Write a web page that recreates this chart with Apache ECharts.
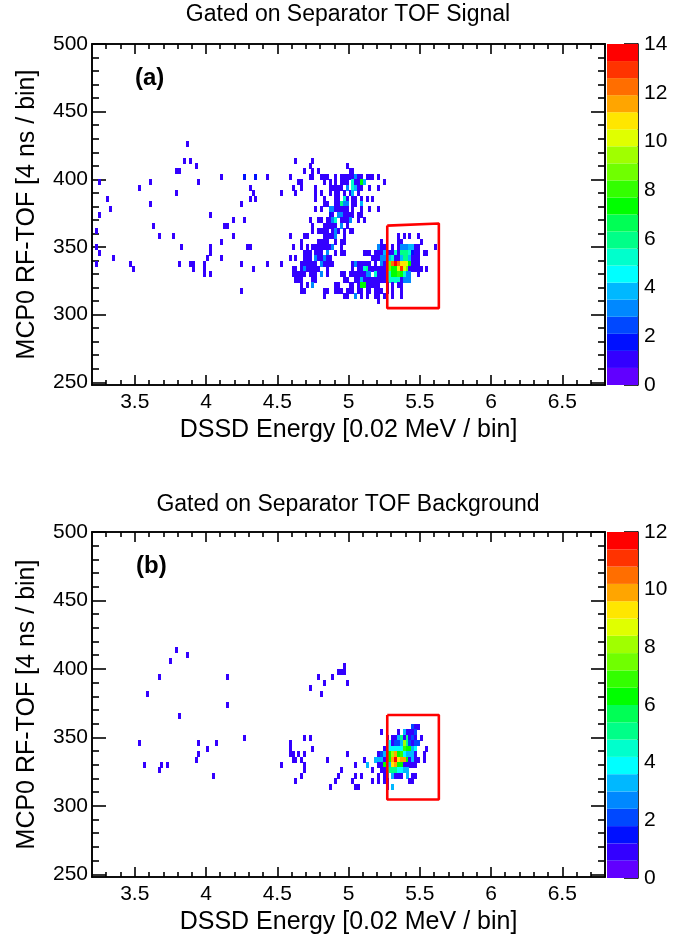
<!DOCTYPE html>
<html>
<head>
<meta charset="utf-8">
<script src="https://cdn.jsdelivr.net/npm/echarts@6/dist/echarts.min.js"></script>
<style>
html, body { margin: 0; padding: 0; background: #fff; }
#chart { width: 694px; height: 936px; }
</style>
</head>
<body>
<div id="chart"></div>
<script>
// each row: [tof low edge, energy bin numbers (0.02 MeV, bin 0 starts at 3.2), counts, 1 when left out]
const rowsA = [
  [424, [33]],
  [412, [32,34,71,77]],
  [408, [36,76,89]],
  [404, [29,30,74,77,79,90,91]],
  [400, [45,53,57,61,69,76,77,80,81,82,85,87,88,89,90,91,92,93,94,96,97,98,100], [1,2,2,1,1,1,1,1,1,1,1,1,1,1,1,1,3,1,1,1,1,1,1]],
  [396, [2,20,37,72,73,81,83,85,87,88,89,91,92,93,94,95,102], [1,1,1,1,1,1,1,1,1,1,1,5,1,1,7,4,1]],
  [392, [16,55,70,73,78,83,84,85,86,87,89,91,92,93,94,97,100], [1,1,1,1,1,1,1,1,1,1,3,5,4,1,1,1,1]],
  [388, [29,56,66,71,78,80,83,85,86,88,90,91,93], [1,1,1,1,1,1,1,1,1,1,1,4,1]],
  [384, [5,55,57,78,81,85,86,88,89,91,92,94,96,98], [1,1,1,1,1,1,1,5,1,1,1,1,1,1]],
  [380, [20,52,81,82,85,86,87,88,89,91,92,94], [1,1,1,1,1,1,6,3,3,1,1,4]],
  [376, [6,78,80,83,84,85,86,87,88,89,91,94,97,100], [1,1,1,3,3,1,1,1,1,1,1,1,1,1]],
  [372, [2,41,83,84,86,87,88,89,90,91,93,94], [1,1,2,1,3,3,1,1,1,1,1,1]],
  [368, [49,53,76,79,80,82,83,84,85,87,88,89,90,93,95], [1,1,1,1,1,1,1,3,5,1,1,1,3,1,1]],
  [364, [21,46,47,77,81,82,83,84,85,87,89], [1,1,1,1,1,1,1,1,1,3,1]],
  [360, [1,77,79,80,81,82,84,85,86,88,90,91], [1,1,1,1,1,1,1,3,1,1,1,1]],
  [356, [23,28,49,69,74,75,81,82,83,84,85,88,107,109,111,114], [1,1,1,1,1,1,1,1,1,1,3,1,1,1,1,1]],
  [352, [45,73,79,80,81,82,85,87,88,101,107,108,115]],
  [348, [1,31,41,54,55,70,73,75,77,78,79,80,81,82,83,84,87,100,101,102,105,107,108,109,110,111,112,113,114,120], [1,1,1,1,1,1,1,1,1,1,1,1,1,1,1,3,1,3,1,1,1,1,3,3,3,4,4,1,1,1]],
  [344, [2,41,74,75,76,78,79,80,82,85,87,88,95,96,97,99,100,101,102,104,105,106,107,108,109,110,111,112,113,114,116,117], [1,1,1,1,1,1,1,1,3,1,1,1,1,1,1,1,1,1,4,1,1,5,1,6,6,6,5,2,1,1,1,1]],
  [340, [7,40,45,69,71,74,75,76,78,79,80,81,82,83,98,99,100,101,102,104,105,106,107,108,109,110,111,112,113,114], [1,1,1,1,1,1,1,1,3,1,1,3,1,1,1,1,1,3,3,4,5,1,1,4,6,6,4,1,1,1]],
  [336, [1,13,30,34,35,39,52,61,66,73,74,75,76,77,78,80,81,82,83,84,91,92,93,94,95,96,97,99,101,102,104,105,106,107,108,109,110,111,112,113,114], [1,1,1,1,1,1,1,1,1,1,1,1,1,1,1,3,1,1,1,1,1,3,1,1,1,1,1,1,3,1,9,12,14,12,11,11,10,7,1,1,1]],
  [332, [14,35,39,56,70,71,73,74,75,76,77,78,79,82,91,93,94,95,96,97,98,99,100,101,102,104,105,106,107,108,109,110,111,112,113,114,115,117], [1,1,1,1,1,1,1,3,1,1,1,1,1,1,1,1,1,5,6,1,1,1,1,1,1,9,7,7,10,13,10,9,1,1,1,1,1,1]],
  [328, [39,41,70,71,72,73,74,76,77,78,80,82,87,88,90,91,92,93,94,95,96,97,99,100,101,102,103,104,105,106,107,108,109,110,111,114], [1,1,1,1,1,1,1,1,1,1,3,1,1,1,1,1,1,1,1,1,3,3,5,1,1,1,1,5,7,7,8,7,5,3,3,1]],
  [324, [71,72,73,77,78,88,89,92,93,94,95,96,97,98,99,100,101,102,103,104,105,106,107,108,109,110,111], [1,1,1,1,1,1,1,1,1,4,1,1,1,1,1,1,1,1,1,5,5,5,5,1,3,3,3]],
  [320, [73,75,77,85,86,90,91,93,94,95,96,97,98,99,100,103,105,107,108], [1,1,3,1,1,1,1,1,7,7,1,1,1,1,1,1,1,1,1]],
  [316, [52,73,74,81,82,85,86,87,89,90,91,93,94,96,97,99,100,101,103,105,108]],
  [312, [81,88,89,92,94,96,99,100,102,105,108], [1,1,1,3,1,1,1,1,1,1,1]],
  [308, [100]]
]
const rowsB = [
  [412, [29]],
  [408, [33]],
  [404, [27]],
  [400, [88]],
  [396, [86,87,88]],
  [392, [23,47,79,84]],
  [388, [81,89]],
  [384, [76]],
  [380, [19,80]],
  [372, [47]],
  [364, [30]],
  [356, [112,113,114], [2,1,1]],
  [352, [101,107,109,110,111,112,113], [1,1,3,1,1,1,2]],
  [348, [53,74,76,103,105,106,107,108,109,110,111,112,113,115], [1,1,1,1,1,1,3,5,1,5,1,2,1,1]],
  [344, [16,37,43,69,104,105,106,107,108,109,110,111,112,113,114], [1,1,1,1,4,1,2,2,3,8,5,2,1,2,2]],
  [340, [40,69,77,102,103,104,105,106,107,108,109,110,111,112,113,117], [1,1,1,1,1,4,4,4,4,4,7,6,6,3,4,1]],
  [336, [37,69,70,72,74,89,100,101,102,103,104,105,106,107,108,109,110,111,112,113,116], [1,1,1,1,1,1,1,2,3,1,6,8,10,6,7,4,3,3,3,1,1]],
  [332, [36,70,71,73,82,95,99,100,101,102,103,104,105,106,107,108,109,110,111,112,113,114,116], [1,1,1,1,1,1,3,3,3,1,1,6,10,12,9,10,10,6,1,3,1,1,1]],
  [328, [18,24,26,66,74,92,96,100,101,102,103,104,105,106,107,108,109,110,111,112,113], [1,1,1,1,1,1,3,1,1,6,1,3,9,10,6,6,1,1,1,1,1]],
  [324, [23,74,87,98,101,102,103,104,105,106,107,108,109,110], [1,1,1,1,1,1,5,5,5,5,4,4,3,3]],
  [320, [42,73,86,92,94,100,102,103,105,106,107,108,110,112,113], [1,1,1,1,1,1,1,3,3,1,1,1,3,1,1]],
  [316, [71,85,91,98,100,102,103,111,112]],
  [312, [83,92,93,103,105], [1,1,1,1,3]]
]
const paletteColors = ['#6100ff','#3300ff','#0010ff','#0048ff','#0088ff','#00b8ff','#00ffff','#00ffcc','#00ff88','#00ff55',
  '#00ff00','#33ff00','#70ff00','#a0ff00','#e0ff00','#ffe600','#ffa500','#ff6e00','#ff3300','#ff0000']

const energyMajor = [3.5,4,4.5,5,5.5,6,6.5]
const energyMinor = [3.3,3.4,3.6,3.7,3.8,3.9,4.1,4.2,4.3,4.4,4.6,4.7,4.8,4.9,5.1,5.2,5.3,5.4,5.6,5.7,5.8,5.9,6.1,6.2,6.3,6.4,6.6,6.7,6.8]
const tofMajor = [250,300,350,400,450,500]
const tofMinor = [260,270,280,290,310,320,330,340,360,370,380,390,410,420,430,440,460,470,480,490]
const scaleTicksA = [0,2,4,6,8,10,12,14]
const scaleTicksB = [0,2,4,6,8,10,12]
const gateEnergy = [5.272,5.634,5.634,5.272,5.272]
const gateTofA = [365.8,367.3,304.8,304.8,365.8]
const gateTofB = [366.3,366.3,304.6,304.6,366.3]

const font = 'Liberation Sans'
const energyRange = [3.2, 6.8]
const tofRange = [248, 500]

function cells (rows) {
  const out = []
  rows.forEach(([tof, bins, counts]) => {
    bins.forEach((b, i) => {
      out.push([3.2 + b * 0.02, tof, counts ? counts[i] : 1])
    })
  })
  return out
}

function renderCell (maxCount) {
  return function (params, api) {
    const p = api.coord([api.value(0), api.value(1) + 4])
    const band = Math.min(19, Math.floor(api.value(2) / maxCount * 20))
    return {
      type: 'rect',
      shape: { x: Math.round(p[0]), y: Math.round(p[1]), width: 3, height: 6 },
      style: { fill: paletteColors[band] }
    }
  }
}

function renderBand (params, api) {
  const p0 = api.coord([0, api.value(1)])
  const p1 = api.coord([1, api.value(0)])
  return {
    type: 'rect',
    shape: { x: p0[0], y: p0[1], width: p1[0] - p0[0], height: p1[1] - p0[1] },
    style: { fill: paletteColors[api.value(2)] }
  }
}

const black = { color: '#000', width: 1.6 }

// one axis: line + ticks at the given values, no labels unless label is set
function axis (gridIndex, position, range, values, len, label, name, nameGap) {
  return {
    type: 'value', gridIndex, position, min: range[0], max: range[1],
    splitLine: { show: false },
    axisLine: { show: true, onZero: false, lineStyle: black },
    axisTick: { show: true, inside: true, length: len, customValues: values, lineStyle: black },
    axisLabel: label ? { show: true, customValues: values, color: '#000', fontFamily: font, fontSize: 21, margin: label } : { show: false },
    name: name || '',
    nameLocation: 'middle',
    nameGap: nameGap,
    nameTextStyle: { color: '#000', fontFamily: font, fontSize: 25 }
  }
}

function textLabel (text, left, top, size, weight, align) {
  return { text, left, top, padding: 0, textAlign: align, textStyle: { color: '#000', fontFamily: font, fontSize: size, fontWeight: weight } }
}

const option = {
  animation: false,
  backgroundColor: '#fff',
  title: [
    textLabel('Gated on Separator TOF Signal', 348, 3, 23, 'normal', 'center'),
    textLabel('Gated on Separator TOF Background', 348, 493, 23, 'normal', 'center'),
    textLabel('(a)', 135, 66, 24, 'bold', 'left'),
    textLabel('(b)', 136, 554, 24, 'bold', 'left')
  ],
  grid: [
    { left: 92, top: 44, width: 513, height: 341 },
    { left: 607, top: 44, width: 31, height: 341 },
    { left: 92, top: 532, width: 513, height: 346 },
    { left: 607, top: 532, width: 31, height: 346 }
  ],
  xAxis: [
    axis(0, 'bottom', energyRange, energyMajor, 10, 7, 'DSSD Energy [0.02 MeV / bin]', 33),
    { type: 'value', gridIndex: 1, min: 0, max: 1, show: false },
    axis(2, 'bottom', energyRange, energyMajor, 10, 7, 'DSSD Energy [0.02 MeV / bin]', 33),
    { type: 'value', gridIndex: 3, min: 0, max: 1, show: false },
    axis(0, 'bottom', energyRange, energyMinor, 5),
    axis(0, 'top', energyRange, energyMajor, 10),
    axis(0, 'top', energyRange, energyMinor, 5),
    axis(2, 'bottom', energyRange, energyMinor, 5),
    axis(2, 'top', energyRange, energyMajor, 10),
    axis(2, 'top', energyRange, energyMinor, 5)
  ],
  yAxis: [
    axis(0, 'left', tofRange, tofMajor, 14, 4, 'MCP0 RF-TOF [4 ns / bin]', 52),
    axis(1, 'right', [0, 14], scaleTicksA, 14, 6),
    axis(2, 'left', tofRange, tofMajor, 14, 4, 'MCP0 RF-TOF [4 ns / bin]', 52),
    axis(3, 'right', [0, 12], scaleTicksB, 14, 6),
    axis(0, 'left', tofRange, tofMinor, 7),
    axis(0, 'right', tofRange, tofMajor, 14),
    axis(0, 'right', tofRange, tofMinor, 7),
    axis(2, 'left', tofRange, tofMinor, 7),
    axis(2, 'right', tofRange, tofMajor, 14),
    axis(2, 'right', tofRange, tofMinor, 7)
  ],
  series: [
    { type: 'custom', xAxisIndex: 0, yAxisIndex: 0, data: cells(rowsA), renderItem: renderCell(14), clip: true },
    { type: 'custom', xAxisIndex: 2, yAxisIndex: 2, data: cells(rowsB), renderItem: renderCell(12), clip: true },
    { type: 'custom', xAxisIndex: 1, yAxisIndex: 1, renderItem: renderBand,
      data: paletteColors.map((c, i) => [i * 14 / 20, (i + 1) * 14 / 20, i]) },
    { type: 'custom', xAxisIndex: 3, yAxisIndex: 3, renderItem: renderBand,
      data: paletteColors.map((c, i) => [i * 12 / 20, (i + 1) * 12 / 20, i]) },
    { type: 'line', xAxisIndex: 0, yAxisIndex: 0, symbol: 'none', lineStyle: { color: '#ff0000', width: 2.6 },
      data: gateEnergy.map((e, i) => [e, gateTofA[i]]) },
    { type: 'line', xAxisIndex: 2, yAxisIndex: 2, symbol: 'none', lineStyle: { color: '#ff0000', width: 2.6 },
      data: gateEnergy.map((e, i) => [e, gateTofB[i]]) }
  ]
}

const chart = echarts.init(document.getElementById('chart'), null, { renderer: 'canvas' })
chart.setOption(option)
</script>
</body>
</html>
